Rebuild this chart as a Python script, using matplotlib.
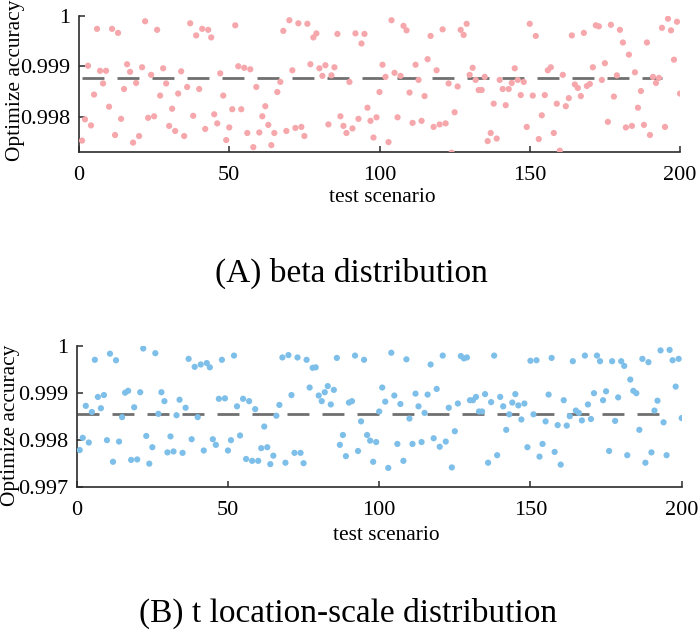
import numpy as np
import matplotlib
matplotlib.use("Agg")
import matplotlib.pyplot as plt

plt.rcParams['font.family'] = ['Liberation Serif', 'DejaVu Serif']

# scenario index, shared by both panels
scenario = np.arange(1, 201)

# (A) beta distribution
beta_acc = [
    0.99753, 0.99795, 0.99901, 0.99783, 0.99844, 0.99974, 0.99891, 0.99866, 0.99891, 0.99820,
    0.99974, 0.99764, 0.99966, 0.99796, 0.99855, 0.99904, 0.99889, 0.99749, 0.99867, 0.99762,
    0.99898, 0.99989, 0.99798, 0.99883, 0.99801, 0.99972, 0.99842, 0.99896, 0.99866, 0.99782,
    0.99816, 0.99772, 0.99846, 0.99890, 0.99762, 0.99859, 0.99985, 0.99802, 0.99961, 0.99855,
    0.99974, 0.99776, 0.99972, 0.99957, 0.99805, 0.99787, 0.99886, 0.99842, 0.99754, 0.99779,
    0.99815, 0.99981, 0.99900, 0.99815, 0.99897, 0.99768, 0.99894, 0.99740, 0.99859, 0.99769,
    0.99801, 0.99821, 0.99784, 0.99744, 0.99768, 0.99849, 0.99869, 0.99970, 0.99772, 0.99991,
    0.99892, 0.99778, 0.99985, 0.99780, 0.99762, 0.99984, 0.99904, 0.99957, 0.99965, 0.99896,
    0.99881, 0.99902, 0.99785, 0.99882, 0.99898, 0.99964, 0.99801, 0.99782, 0.99768, 0.99869,
    0.99777, 0.99965, 0.99796, 0.99945, 0.99964, 0.99818, 0.99792, 0.99759, 0.99799, 0.99849,
    0.99903, 0.99879, 0.99750, 0.99991, 0.99887, 0.99799, 0.99881, 0.99980, 0.99971, 0.99848,
    0.99788, 0.99903, 0.99873, 0.99792, 0.99841, 0.99914, 0.99960, 0.99780, 0.99892, 0.99785,
    0.99973, 0.99787, 0.99866, 0.99729, 0.99809, 0.99860, 0.99972, 0.99962, 0.99984, 0.99883,
    0.99897, 0.99873, 0.99853, 0.99853, 0.99879, 0.99752, 0.99768, 0.99826, 0.99757, 0.99873,
    0.99855, 0.99823, 0.99855, 0.99867, 0.99896, 0.99873, 0.99843, 0.99869, 0.99780, 0.99984,
    0.99842, 0.99960, 0.99756, 0.99803, 0.99843, 0.99892, 0.99898, 0.99768, 0.99826, 0.99733,
    0.99883, 0.99821, 0.99837, 0.99961, 0.99864, 0.99857, 0.99841, 0.99966, 0.99861, 0.99865,
    0.99898, 0.99981, 0.99979, 0.99873, 0.99906, 0.99790, 0.99982, 0.99840, 0.99882, 0.99972,
    0.99947, 0.99779, 0.99923, 0.99782, 0.99888, 0.99818, 0.99851, 0.99784, 0.99947, 0.99764,
    0.99879, 0.99867, 0.99877, 0.99976, 0.99780, 0.99994, 0.99971, 0.99913, 0.99988, 0.99846,
]
beta_mean = 0.99877
beta_mean_span = [1, 194]

# (B) t location-scale distribution
tls_acc = [
    0.99778, 0.99804, 0.99872, 0.99794, 0.99859, 0.99970, 0.99891, 0.99867, 0.99895, 0.99799,
    0.99983, 0.99753, 0.99969, 0.99796, 0.99848, 0.99900, 0.99904, 0.99757, 0.99869, 0.99758,
    0.99901, 0.99994, 0.99808, 0.99749, 0.99784, 0.99984, 0.99855, 0.99901, 0.99882, 0.99773,
    0.99807, 0.99775, 0.99852, 0.99885, 0.99772, 0.99868, 0.99972, 0.99801, 0.99955, 0.99848,
    0.99960, 0.99777, 0.99963, 0.99954, 0.99801, 0.99789, 0.99887, 0.99970, 0.99888, 0.99777,
    0.99799, 0.99979, 0.99871, 0.99809, 0.99887, 0.99759, 0.99882, 0.99755, 0.99865, 0.99755,
    0.99782, 0.99828, 0.99784, 0.99748, 0.99766, 0.99851, 0.99874, 0.99975, 0.99751, 0.99980,
    0.99895, 0.99772, 0.99975, 0.99772, 0.99750, 0.99970, 0.99911, 0.99953, 0.99954, 0.99894,
    0.99882, 0.99901, 0.99914, 0.99875, 0.99906, 0.99974, 0.99789, 0.99810, 0.99765, 0.99879,
    0.99882, 0.99979, 0.99776, 0.99839, 0.99970, 0.99810, 0.99798, 0.99753, 0.99795, 0.99860,
    0.99911, 0.99881, 0.99740, 0.99985, 0.99894, 0.99791, 0.99876, 0.99755, 0.99971, 0.99845,
    0.99791, 0.99898, 0.99871, 0.99795, 0.99857, 0.99896, 0.99960, 0.99803, 0.99908, 0.99785,
    0.99979, 0.99796, 0.99868, 0.99741, 0.99818, 0.99877, 0.99978, 0.99973, 0.99975, 0.99884,
    0.99884, 0.99891, 0.99860, 0.99860, 0.99897, 0.99751, 0.99880, 0.99979, 0.99767, 0.99891,
    0.99871, 0.99821, 0.99854, 0.99879, 0.99897, 0.99873, 0.99843, 0.99877, 0.99784, 0.99968,
    0.99854, 0.99969, 0.99764, 0.99791, 0.99839, 0.99896, 0.99974, 0.99774, 0.99831, 0.99747,
    0.99884, 0.99830, 0.99850, 0.99967, 0.99862, 0.99857, 0.99841, 0.99979, 0.99875, 0.99844,
    0.99899, 0.99979, 0.99967, 0.99884, 0.99903, 0.99776, 0.99967, 0.99840, 0.99890, 0.99967,
    0.99957, 0.99767, 0.99928, 0.99904, 0.99899, 0.99821, 0.99972, 0.99751, 0.99965, 0.99773,
    0.99862, 0.99883, 0.99990, 0.99837, 0.99767, 0.99991, 0.99969, 0.99913, 0.99972, 0.99846,
]
tls_mean = 0.99855
tls_mean_span = [0, 193.5]

x_ticks = [0, 50, 100, 150, 200]
beta_yticks = [0.998, 0.999, 1.0]
beta_yticklabels = ['0.998', '0.999', '1']
tls_yticks = [0.997, 0.998, 0.999, 1.0]
tls_yticklabels = ['0.997', '0.998', '0.999', '1']

W, H = 699, 630
fig = plt.figure(figsize=(W / 100, H / 100), dpi=100)


def px_axes(left, top, right, bottom):
    return fig.add_axes([left / W, 1 - bottom / H, (right - left) / W, (bottom - top) / H])


def style(ax, yticks, ylabels, ylim):
    ax.set_xlim(0, 200)
    ax.set_ylim(*ylim)
    ax.set_xticks(x_ticks)
    ax.set_yticks(yticks)
    ax.set_yticklabels(ylabels)
    for s in ['top', 'right']:
        ax.spines[s].set_visible(False)
    for s in ['left', 'bottom']:
        ax.spines[s].set_linewidth(1.2)
        ax.spines[s].set_color('#2b2b2b')
    ax.tick_params(direction='in', length=4.3, width=1.1, color='#2b2b2b', labelsize=16)
    ax.tick_params(axis='x', pad=10)
    ax.tick_params(axis='y', pad=6.3)
    ax.patch.set_alpha(0)


ax1 = px_axes(79, 15.7, 680, 151.7)
ax1.scatter(scenario, beta_acc, s=20, color='#f6a7ab', edgecolors='none', zorder=3)
ax1.plot(beta_mean_span, [beta_mean, beta_mean], color='#707070', lw=2.0,
         dashes=(7.9, 4.7), zorder=2)
style(ax1, beta_yticks, beta_yticklabels, (0.99731, 1.0))

ax2 = px_axes(76.7, 345.7, 681.7, 486.7)
ax2.scatter(scenario, tls_acc, s=20, color='#7dbfe9', edgecolors='none', zorder=3)
ax2.plot(tls_mean_span, [tls_mean, tls_mean], color='#707070', lw=2.0,
         dashes=(7.9, 4.7), zorder=2)
style(ax2, tls_yticks, tls_yticklabels, (0.997, 1.0))

# axis labels and captions placed where they sit in the figure
fig.text(382 / W, 1 - 201.7 / H, 'test scenario', ha='center', va='baseline', fontsize=15.4)
fig.text(386.7 / W, 1 - 540 / H, 'test scenario', ha='center', va='baseline', fontsize=15.4)
fig.text(16 / W, 1 - 80 / H, 'Optimize accuracy', rotation=90, ha='center', va='center', fontsize=15.4)
fig.text(11 / W, 1 - 425 / H, 'Optimize accuracy', rotation=90, ha='center', va='center', fontsize=15.4)
fig.text(351.5 / W, 1 - 281.7 / H, '(A) beta distribution', ha='center', va='baseline', fontsize=24)
fig.text(348.5 / W, 1 - 621.7 / H, '(B) t location-scale distribution', ha='center', va='baseline', fontsize=24)

plt.savefig('out.png', dpi=100)
